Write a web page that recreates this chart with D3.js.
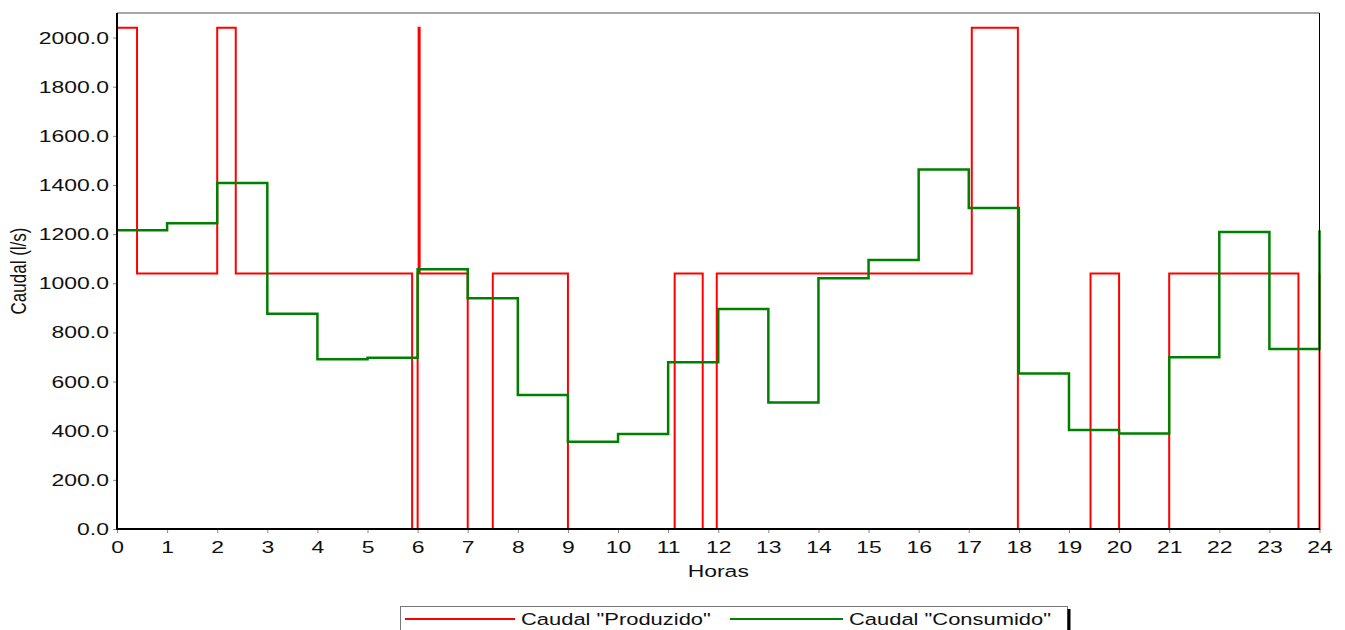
<!DOCTYPE html>
<html>
<head>
<meta charset="utf-8">
<script src="https://cdn.jsdelivr.net/npm/d3@7"></script>
<style>
  body { margin: 0; background: #fff; }
  svg { display: block; font-family: "Liberation Sans", Arial, sans-serif; }
</style>
</head>
<body>
<svg width="1345" height="630"></svg>
<script>
// Caudal "Produzido" (step changes: start hour, value)
const producedTimes = [0, 0, 0.4, 2, 2.37, 5.89, 6.0, 6.02, 6.04, 7, 7.5, 9, 11.13, 11.69, 11.97, 17.06, 17.98, 19.43, 20, 21, 23.58, 24];
const producedValues = [1040, 2040, 1040, 2040, 1040, 0, 1040, 2040, 1040, 0, 1040, 0, 1040, 0, 1040, 2040, 0, 1040, 0, 1040, 0, 1040];

// Caudal "Consumido" (hourly values)
const consumedTimes = [0, 1, 2, 3, 4, 5, 6, 7, 8, 9, 10, 11, 12, 13, 14, 15, 16, 17, 18, 19, 20, 21, 22, 23, 24];
const consumedValues = [1216, 1244, 1408, 876, 691, 697, 1057, 939, 545, 355, 387, 679, 895, 515, 1021, 1095, 1463, 1306, 633, 403, 389, 699, 1209, 733, 1216];

// Tick labels
const hourTicks = [0, 1, 2, 3, 4, 5, 6, 7, 8, 9, 10, 11, 12, 13, 14, 15, 16, 17, 18, 19, 20, 21, 22, 23, 24];
const flowTicks = [0, 200, 400, 600, 800, 1000, 1200, 1400, 1600, 1800, 2000];

const svg = d3.select("svg");
const SX = 1.35; // text in the original is stretched horizontally
const plotLeft = 117, plotRight = 1319.5, plotTop = 13, plotBottom = 529;

const x = d3.scaleLinear().domain([0, 24]).range([plotLeft, plotRight]);
const y = d3.scaleLinear().domain([0, 2100]).range([plotBottom, plotTop]);

// Axes
const yAxis = svg.append("g")
  .attr("transform", `translate(${plotLeft},0)`)
  .call(d3.axisLeft(y).tickValues(flowTicks).tickFormat(d3.format(".1f")).tickSize(4).tickPadding(4));

const xAxis = svg.append("g")
  .attr("transform", `translate(0,${plotBottom})`)
  .call(d3.axisBottom(x).tickValues(hourTicks).tickFormat(d3.format("d")).tickSize(4).tickPadding(8));

[yAxis, xAxis].forEach(a => {
  a.select(".domain").remove();
  a.selectAll(".tick line").attr("stroke", "#888");
  a.selectAll(".tick text")
    .attr("fill", "#111")
    .style("font-size", "17px");
});

yAxis.selectAll(".tick text")
  .attr("x", -8 / SX)
  .attr("transform", `scale(${SX},1)`);

xAxis.selectAll(".tick text")
  .attr("transform", `scale(${SX},1)`);

// Lines
const line = d3.line()
  .x(d => x(d[0]))
  .y(d => y(d[1]))
  .curve(d3.curveStepAfter);

svg.append("path")
  .datum(d3.zip(producedTimes, producedValues))
  .attr("fill", "none")
  .attr("stroke", "#ff0000")
  .attr("stroke-width", 2)
  .attr("d", line);

svg.append("path")
  .datum(d3.zip(consumedTimes, consumedValues))
  .attr("fill", "none")
  .attr("stroke", "#008000")
  .attr("stroke-width", 2.5)
  .attr("d", line);

// Frame
svg.append("line").attr("x1", plotLeft).attr("x2", plotRight).attr("y1", plotTop).attr("y2", plotTop)
  .attr("stroke", "#888").attr("stroke-width", 1.5);
svg.append("line").attr("x1", plotRight).attr("x2", plotRight).attr("y1", plotTop).attr("y2", plotBottom)
  .attr("stroke", "#000").attr("stroke-width", 1);
svg.append("line").attr("x1", plotLeft).attr("x2", plotLeft).attr("y1", plotTop).attr("y2", plotBottom + 1)
  .attr("stroke", "#000").attr("stroke-width", 2);
svg.append("line").attr("x1", plotLeft - 1).attr("x2", plotRight + 0.5).attr("y1", plotBottom).attr("y2", plotBottom)
  .attr("stroke", "#000").attr("stroke-width", 2);

// Axis titles
svg.append("text")
  .attr("transform", `translate(${(plotLeft + plotRight) / 2},577) scale(${SX},1)`)
  .attr("text-anchor", "middle")
  .style("font-size", "17px")
  .attr("fill", "#111")
  .text("Horas");

svg.append("text")
  .attr("transform", `translate(26,${(plotTop + plotBottom) / 2}) scale(${SX},1) rotate(-90)`)
  .attr("text-anchor", "middle")
  .style("font-size", "17px")
  .attr("fill", "#111")
  .text("Caudal (l/s)");

// Legend
const legend = svg.append("g");
legend.append("rect")
  .attr("x", 400.5).attr("y", 606.5).attr("width", 667).attr("height", 40)
  .attr("fill", "#fff").attr("stroke", "#777").attr("stroke-width", 1);
legend.append("line")
  .attr("x1", 1069).attr("x2", 1069).attr("y1", 609).attr("y2", 630)
  .attr("stroke", "#000").attr("stroke-width", 3);

const legendItems = [
  { label: 'Caudal "Produzido"', color: "#ff0000", x0: 405, x1: 515 },
  { label: 'Caudal "Consumido"', color: "#008000", x0: 730, x1: 843 }
];

legendItems.forEach(it => {
  legend.append("line")
    .attr("x1", it.x0).attr("x2", it.x1).attr("y1", 619).attr("y2", 619)
    .attr("stroke", it.color).attr("stroke-width", 2);
  legend.append("text")
    .attr("transform", `translate(${it.x1 + 6},625) scale(1.29,1)`)
    .style("font-size", "17px")
    .attr("fill", "#111")
    .text(it.label);
});
</script>
</body>
</html>
